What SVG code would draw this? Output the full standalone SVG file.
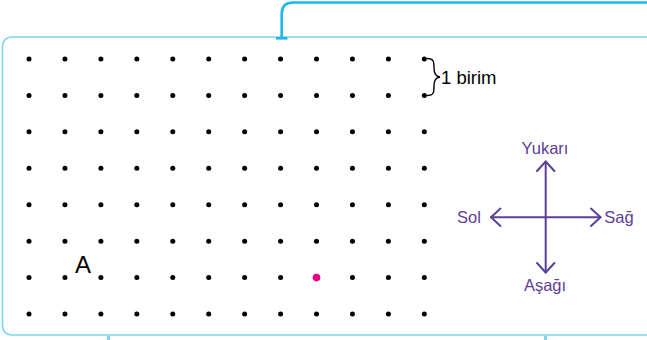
<svg xmlns="http://www.w3.org/2000/svg" width="647" height="340" viewBox="0 0 647 340">
<defs>
<style>
.frame{fill:none;stroke:#7fd4f1;stroke-width:1.6}
.link{fill:none;stroke:#1cb8ea;stroke-width:2.6}
.stub{fill:none;stroke:#86d2f2;stroke-width:3}
.dot{fill:#000}
.lbl{font-family:"Liberation Sans",Arial,sans-serif;fill:#000}
.dir{font-family:"Liberation Sans",Arial,sans-serif;fill:#5b4099;font-size:16.5px;text-anchor:middle}
.ax{fill:none;stroke:#5b4099;stroke-width:2;stroke-linecap:round;stroke-linejoin:round}
</style>
<g id="row">
<circle class="dot" cx="29" cy="0" r="2.5"/>
<circle class="dot" cx="64.94" cy="0" r="2.5"/>
<circle class="dot" cx="100.88" cy="0" r="2.5"/>
<circle class="dot" cx="136.82" cy="0" r="2.5"/>
<circle class="dot" cx="172.76" cy="0" r="2.5"/>
<circle class="dot" cx="208.7" cy="0" r="2.5"/>
<circle class="dot" cx="244.64" cy="0" r="2.5"/>
<circle class="dot" cx="280.58" cy="0" r="2.5"/>
<circle class="dot" cx="316.52" cy="0" r="2.5"/>
<circle class="dot" cx="352.46" cy="0" r="2.5"/>
<circle class="dot" cx="388.4" cy="0" r="2.5"/>
<circle class="dot" cx="424.34" cy="0" r="2.5"/>
</g>
</defs>
<rect x="0" y="0" width="647" height="340" fill="#fff"/>
<g id="frame">
<rect class="frame" x="2.5" y="37" width="660" height="298" rx="9"/>
</g>
<g id="connectors">
<path class="link" d="M281.7 37 V14 Q281.7 2.5 293 2.5 H647"/>
<path class="link" d="M276 38.3 H287.5"/>
<path class="stub" d="M108.5 336 V340"/>
<path class="stub" d="M545.5 336 V340"/>
</g>
<g id="grid-dots">
<use href="#row" y="59"/>
<use href="#row" y="95.43"/>
<use href="#row" y="131.86"/>
<use href="#row" y="168.29"/>
<use href="#row" y="204.72"/>
<use href="#row" y="241.15"/>
<use href="#row" y="277.58"/>
<use href="#row" y="314"/>
<circle cx="316.52" cy="277.58" r="3.8" fill="#e6007e"/>
</g>
<g id="label-A">
<text class="lbl" x="75" y="272.7" font-size="24">A</text>
</g>
<g id="unit">
<path d="M427 58.5 C434 58.5 434 62 434 68 C434 73 435 76.5 440 77 C435 77.5 434 81 434 86 C434 92 434 95.5 427 95.5" fill="none" stroke="#000" stroke-width="1.4"/>
<text class="lbl" x="441" y="84" font-size="18.5">1 birim</text>
</g>
<g id="compass">
<path class="ax" d="M545.7 161.5 V272.5 M491 217.3 H600.5"/>
<path class="ax" d="M537 171 L545.7 161.5 L554.4 171"/>
<path class="ax" d="M537 263 L545.7 272.5 L554.4 263"/>
<path class="ax" d="M500.5 208.6 L491 217.3 L500.5 226"/>
<path class="ax" d="M591 208.6 L600.5 217.3 L591 226"/>
<text class="dir" x="545" y="154">Yukarı</text>
<text class="dir" x="545" y="291">Aşağı</text>
<text class="dir" x="469" y="223">Sol</text>
<text class="dir" x="619" y="223">Sağ</text>
</g>
</svg>
